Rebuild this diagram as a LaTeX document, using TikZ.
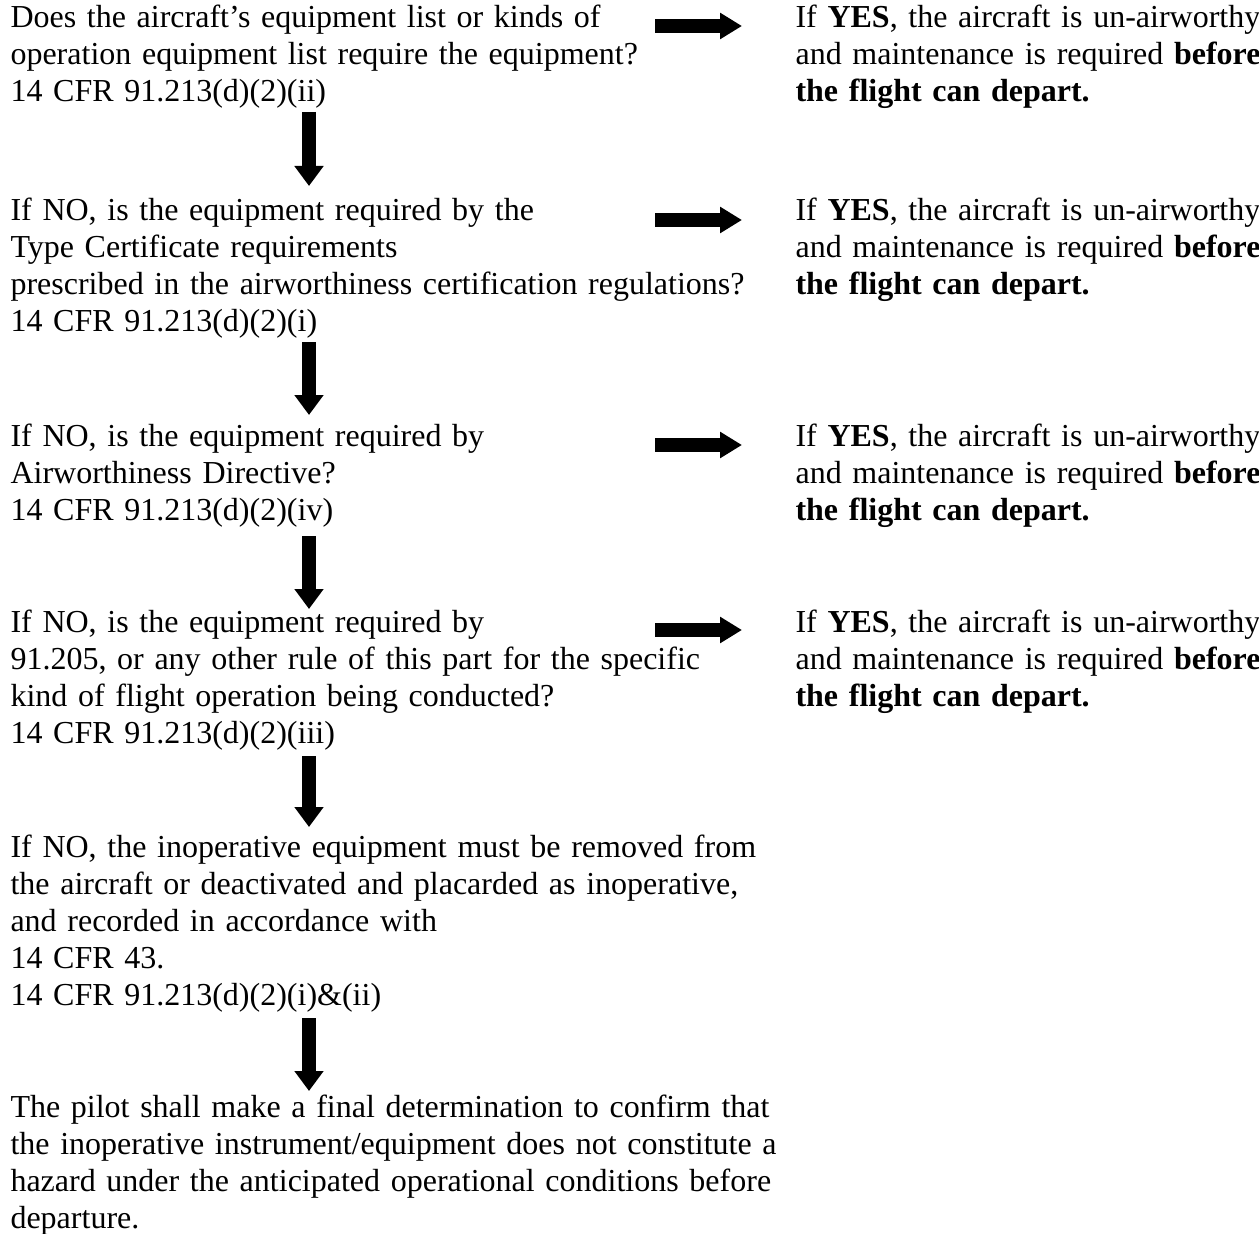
\documentclass[tikz,border=0pt]{standalone}
\usepackage{fontspec}
\setmainfont{Liberation Serif}
\usetikzlibrary{arrows.meta}
\begin{document}
\begin{tikzpicture}[x=0.375pt,y=-0.375pt]
	\tikzstyle{stepnote} = [anchor=base west, inner sep=0pt, text width=300pt, align=left, font=\fontsize{12}{13.875}\selectfont]
	\tikzstyle{yesnote} = [stepnote, text width=190pt]
	\tikzstyle{noarrow} = [line width=4.9pt, -{Triangle[width=10.5pt,length=7.5pt]}]
	\tikzstyle{yesarrow} = [line width=5.25pt, -{Triangle[width=9.4pt,length=8.25pt]}]

	\def\colx{309}
	\def\yesx{795}

	\useasboundingbox (0,0) rectangle (1259,1234);

	% NODES %
	\node[stepnote] (q1) at (10,28) {Does the aircraft’s equipment list or kinds of\\operation equipment list require the equipment?\\14 CFR 91.213(d)(2)(ii)};
	\node[stepnote] (q2) at (10,221) {If NO, is the equipment required by the\\Type Certificate requirements\\prescribed in the airworthiness certification regulations?\\14 CFR 91.213(d)(2)(i)};
	\node[stepnote] (q3) at (10,446) {If NO, is the equipment required by\\Airworthiness Directive?\\14 CFR 91.213(d)(2)(iv)};
	\node[stepnote] (q4) at (10,632) {If NO, is the equipment required by\\91.205, or any other rule of this part for the specific\\kind of flight operation being conducted?\\14 CFR 91.213(d)(2)(iii)};
	\node[stepnote] (q5) at (10,857) {If NO, the inoperative equipment must be removed from\\the aircraft or deactivated and placarded as inoperative,\\and recorded in accordance with\\14 CFR 43.\\14 CFR 91.213(d)(2)(i)\&(ii)};
	\node[stepnote] (q6) at (10,1117) {The pilot shall make a final determination to confirm that\\the inoperative instrument/equipment does not constitute a\\hazard under the anticipated operational conditions before\\departure.};

	\node[yesnote] (y1) at (\yesx,28) {If \textbf{YES}, the aircraft is un-airworthy\\and maintenance is required \textbf{before}\\\textbf{the flight can depart.}};
	\node[yesnote] (y2) at (\yesx,221) {If \textbf{YES}, the aircraft is un-airworthy\\and maintenance is required \textbf{before}\\\textbf{the flight can depart.}};
	\node[yesnote] (y3) at (\yesx,446) {If \textbf{YES}, the aircraft is un-airworthy\\and maintenance is required \textbf{before}\\\textbf{the flight can depart.}};
	\node[yesnote] (y4) at (\yesx,632) {If \textbf{YES}, the aircraft is un-airworthy\\and maintenance is required \textbf{before}\\\textbf{the flight can depart.}};

	% arrow ends
	\coordinate (n1a) at (\colx,112);
	\coordinate (n1b) at (\colx,186);
	\coordinate (n2a) at (\colx,342);
	\coordinate (n2b) at (\colx,415);
	\coordinate (n3a) at (\colx,536);
	\coordinate (n3b) at (\colx,609);
	\coordinate (n4a) at (\colx,756);
	\coordinate (n4b) at (\colx,827);
	\coordinate (n5a) at (\colx,1018);
	\coordinate (n5b) at (\colx,1091);

	\coordinate (e1a) at (655,26);
	\coordinate (e1b) at (742,26);
	\coordinate (e2a) at (655,220);
	\coordinate (e2b) at (742,220);
	\coordinate (e3a) at (655,445);
	\coordinate (e3b) at (742,445);
	\coordinate (e4a) at (655,630);
	\coordinate (e4b) at (742,630);

	% EDGES %
	%no
	\draw[noarrow] (n1a) -- (n1b);
	\draw[noarrow] (n2a) -- (n2b);
	\draw[noarrow] (n3a) -- (n3b);
	\draw[noarrow] (n4a) -- (n4b);
	\draw[noarrow] (n5a) -- (n5b);
	%yes
	\draw[yesarrow] (e1a) -- (e1b);
	\draw[yesarrow] (e2a) -- (e2b);
	\draw[yesarrow] (e3a) -- (e3b);
	\draw[yesarrow] (e4a) -- (e4b);
\end{tikzpicture}
\end{document}
